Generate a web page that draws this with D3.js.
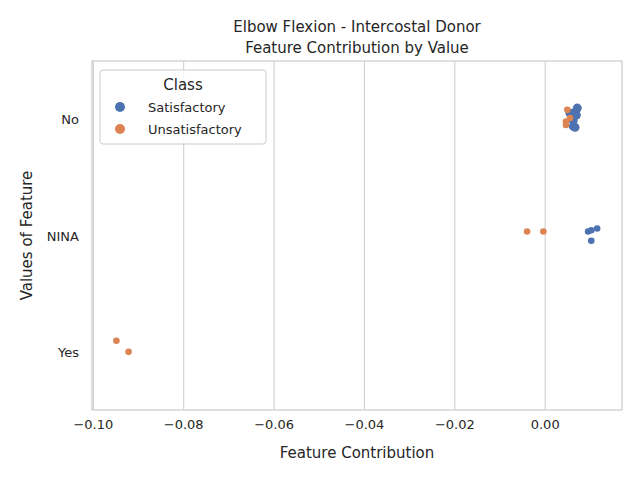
<!DOCTYPE html>
<html><head><meta charset="utf-8">
<script src="https://cdn.jsdelivr.net/npm/d3@7"></script>
<style>body{margin:0;background:#fff}text{font-family:"DejaVu Sans",sans-serif;fill:#262626}</style>
</head><body><svg id="c" width="640" height="480"></svg>
<script>
const categories = ["No", "NINA", "Yes"];
const classes = ["Satisfactory", "Unsatisfactory"];
const ticks = [-0.10, -0.08, -0.06, -0.04, -0.02, 0.00];
// points: category, class, contribution, jitter (fraction of band)
const ptCategory = ["No","No","No","No","No","No","No","No","No","No","No","No",
  "NINA","NINA","NINA","NINA","NINA","NINA","Yes","Yes"];
const ptClass = [0,0,0,0,0,0,0,0,1,1,1,1, 0,0,0,0,1,1, 1,1];
const ptValue = [0.0071,0.0066,0.0058,0.0062,0.0066,0.0062,0.0055,0.0069,0.0049,0.0046,0.0046,0.0055,
  0.0115,0.0102,0.0095,0.0102,-0.0040,-0.0004, -0.0949,-0.0922];
const ptJitter = [-0.095,-0.06,-0.035,0.01,0.07,0.06,-0.05,-0.035,-0.08,0.02,0.05,-0.01,
  -0.06,-0.045,-0.035,0.045,-0.035,-0.035, -0.095,0];

const svg = d3.select("#c");
const L = 92, R = 622, T = 61, B = 410;
const x = d3.scaleLinear().domain([-0.1003, 0.0170]).range([L, R]);
const y = d3.scaleBand().domain(categories).range([T, B]);
const color = d3.scaleOrdinal().domain(classes).range(["#4c72b0", "#dd8452"]);

svg.append("g").selectAll("line").data(ticks).join("line")
  .attr("x1", d => x(d)).attr("x2", d => x(d)).attr("y1", T).attr("y2", B)
  .attr("stroke", "#cccccc").attr("stroke-width", 1);
svg.append("rect").attr("x", L).attr("y", T).attr("width", R - L).attr("height", B - T)
  .attr("fill", "none").attr("stroke", "#cccccc").attr("stroke-width", 1.25);

svg.append("g").selectAll("text").data(ticks).join("text")
  .attr("x", d => x(d)).attr("y", B + 19).attr("text-anchor", "middle").attr("font-size", 13)
  .text(d => d3.format(".2f")(d).replace("-", "\u2212"));
svg.append("g").selectAll("text").data(categories).join("text")
  .attr("x", L - 13).attr("y", d => y(d) + y.bandwidth() / 2 + 5).attr("text-anchor", "end").attr("font-size", 13)
  .text(d => d);

svg.append("text").attr("x", (L + R) / 2).attr("y", 458).attr("text-anchor", "middle").attr("font-size", 15).text("Feature Contribution");
svg.append("text").attr("transform", `translate(32,${(T + B) / 2}) rotate(-90)`).attr("text-anchor", "middle").attr("font-size", 15).text("Values of Feature");
svg.append("text").attr("x", (L + R) / 2).attr("y", 32).attr("text-anchor", "middle").attr("font-size", 15).text("Elbow Flexion - Intercostal Donor");
svg.append("text").attr("x", (L + R) / 2).attr("y", 53).attr("text-anchor", "middle").attr("font-size", 15).text("Feature Contribution by Value");

const pts = ptValue.map((v, i) => ({ v, c: ptCategory[i], k: ptClass[i], j: ptJitter[i] }));
svg.append("g").selectAll("circle").data(pts).join("circle")
  .attr("cx", d => x(d.v)).attr("cy", d => y(d.c) + y.bandwidth() * (0.5 + d.j))
  .attr("r", d => d.c === "No" && d.k === 0 ? 4.5 : 3.3)
  .attr("fill", d => color(classes[d.k]));

const lg = svg.append("g").attr("transform", "translate(100,70)");
lg.append("rect").attr("width", 166).attr("height", 74).attr("rx", 3)
  .attr("fill", "#fff").attr("fill-opacity", 0.8).attr("stroke", "#cccccc");
lg.append("text").attr("x", 83).attr("y", 20).attr("text-anchor", "middle").attr("font-size", 15).text("Class");
classes.forEach((c, i) => {
  lg.append("circle").attr("cx", 20).attr("cy", 37 + i * 22).attr("r", 5).attr("fill", color(c));
  lg.append("text").attr("x", 48).attr("y", 42 + i * 22).attr("font-size", 13).text(c);
});
</script></body></html>
